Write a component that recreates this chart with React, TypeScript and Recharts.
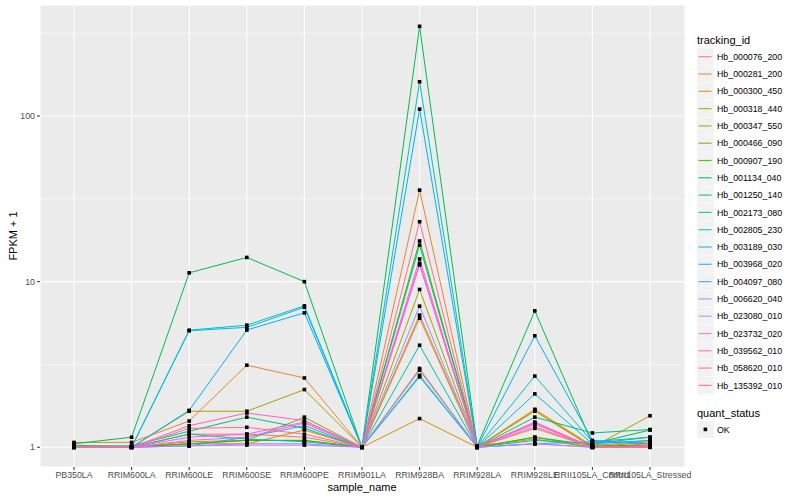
import React from 'react';
import { LineChart, Line, XAxis, YAxis, CartesianGrid, ReferenceLine } from 'recharts';

const CATEGORIES = ['PB350LA', 'RRIM600LA', 'RRIM600LE', 'RRIM600SE', 'RRIM600PE', 'RRIM901LA', 'RRIM928BA', 'RRIM928LA', 'RRIM928LE', 'RRII105LA_Control', 'RRII105LA_Stressed'];

const TRACKING_IDS = ['Hb_000076_200', 'Hb_000281_200', 'Hb_000300_450', 'Hb_000318_440', 'Hb_000347_550', 'Hb_000466_090', 'Hb_000907_190', 'Hb_001134_040', 'Hb_001250_140', 'Hb_002173_080', 'Hb_002805_230', 'Hb_003189_030', 'Hb_003968_020', 'Hb_004097_080', 'Hb_006620_040', 'Hb_023080_010', 'Hb_023732_020', 'Hb_039562_010', 'Hb_058620_010', 'Hb_135392_010'];

const COLORS = ['#F8766D', '#EA8331', '#D89000', '#C09B00', '#A3A500', '#7CAE00', '#39B600', '#00BB4E', '#00BF7D', '#00C1A3', '#00BFC4', '#00BAE0', '#00B0F6', '#35A2FF', '#9590FF', '#C77CFF', '#E76BF3', '#FA62DB', '#FF62BC', '#FF6C91'];

const hb_000076_200 = [1.0, 1.0, 1.2, 1.2, 1.15, 1.0, 6.02, 1.0, 1.3, 1.0, 1.03];
const hb_000281_200 = [1.07, 1.07, 1.44, 3.13, 2.62, 1.0, 35.7, 1.0, 1.69, 1.02, 1.1];
const hb_000300_450 = [1.03, 1.0, 1.05, 1.05, 1.27, 1.0, 1.49, 1.0, 1.69, 1.0, 1.08];
const hb_000318_440 = [1.0, 1.0, 1.08, 1.1, 1.1, 1.0, 6.28, 1.02, 1.12, 1.0, 1.05];
const hb_000347_550 = [1.0, 1.0, 1.65, 1.65, 2.23, 1.0, 8.97, 1.0, 1.65, 1.0, 1.55];
const hb_000466_090 = [1.0, 1.0, 1.05, 1.1, 1.52, 1.0, 2.92, 1.0, 1.15, 1.0, 1.02];
const hb_000907_190 = [1.0, 1.0, 1.05, 1.1, 1.1, 1.0, 17.6, 1.0, 1.15, 1.03, 1.02];
const hb_001134_040 = [1.05, 1.15, 11.3, 14.0, 10.0, 1.0, 348, 1.02, 6.66, 1.05, 1.27];
const hb_001250_140 = [1.02, 1.02, 1.25, 1.52, 1.3, 1.0, 16.6, 1.0, 1.52, 1.22, 1.28];
const hb_002173_080 = [1.0, 1.0, 1.2, 1.12, 1.08, 1.0, 4.13, 1.0, 1.1, 1.05, 1.15];
const hb_002805_230 = [1.0, 1.0, 5.09, 5.46, 7.14, 1.0, 161, 1.0, 2.69, 1.08, 1.15];
const hb_003189_030 = [1.0, 1.0, 5.05, 5.3, 7.0, 1.0, 2.66, 1.0, 2.1, 1.05, 1.1];
const hb_003968_020 = [1.0, 1.0, 1.67, 5.1, 6.48, 1.0, 110, 1.0, 4.71, 1.1, 1.05];
const hb_004097_080 = [1.0, 1.0, 1.02, 1.15, 1.35, 1.0, 2.72, 1.0, 1.05, 1.08, 1.05];
const hb_006620_040 = [1.0, 1.0, 1.02, 1.05, 1.05, 1.0, 7.11, 1.0, 1.05, 1.0, 1.02];
const hb_023080_010 = [1.0, 1.0, 1.02, 1.03, 1.03, 1.0, 2.99, 1.0, 1.05, 1.0, 1.0];
const hb_023732_020 = [1.0, 1.0, 1.1, 1.15, 1.4, 1.0, 12.6, 1.0, 1.4, 1.0, 1.0];
const hb_039562_010 = [1.0, 1.0, 1.15, 1.2, 1.42, 1.0, 12.9, 1.0, 1.38, 1.0, 1.0];
const hb_058620_010 = [1.0, 1.0, 1.35, 1.61, 1.45, 1.0, 13.7, 1.0, 1.42, 1.0, 1.02];
const hb_135392_010 = [1.0, 1.0, 1.3, 1.32, 1.2, 1.0, 23, 1.0, 1.33, 1.0, 1.0];

const SERIES_VALUES = [hb_000076_200, hb_000281_200, hb_000300_450, hb_000318_440, hb_000347_550, hb_000466_090, hb_000907_190, hb_001134_040, hb_001250_140, hb_002173_080, hb_002805_230, hb_003189_030, hb_003968_020, hb_004097_080, hb_006620_040, hb_023080_010, hb_023732_020, hb_039562_010, hb_058620_010, hb_135392_010];

const Y_TICKS = [1, 10, 100];
const Y_MINOR = [3.1623, 31.623, 316.23];

const data = CATEGORIES.map((c, i) => {
  const row: any = { sample_name: c };
  TRACKING_IDS.forEach((id, s) => {
    row[id] = SERIES_VALUES[s][i];
  });
  return row;
});

const FONT = '"Liberation Sans", Arial, Helvetica, sans-serif';

const SquareDot = (props: any) => {
  const { cx, cy, index } = props;
  if (cx == null || cy == null) return <g key={index} />;
  return <rect key={index} x={cx - 1.8} y={cy - 1.8} width={3.6} height={3.6} fill="#000" />;
};

export default function App() {
  return (
    <div style={{ position: 'absolute', left: 0, top: 0, width: 800, height: 500, background: '#fff', fontFamily: FONT }}>
      <LineChart width={800} height={500} data={data} margin={{ top: 5, right: 115, bottom: 0, left: 0 }}>
        <CartesianGrid fill="#EBEBEB" stroke="#FFFFFF" strokeWidth={1.1} />
        {Y_MINOR.map((v) => (
          <ReferenceLine key={v} y={v} stroke="#FFFFFF" strokeWidth={0.55} />
        ))}
        <XAxis
          dataKey="sample_name"
          interval={0}
          padding={{ left: 34, right: 35 }}
          height={33}
          axisLine={false}
          tickSize={3}
          tickLine={{ stroke: '#333333' }}
          tick={{ fill: '#4D4D4D', fontSize: 8.8, fontFamily: FONT }}
          tickMargin={2}
        />
        <YAxis
          scale="log"
          domain={[0.76, 468]}
          allowDataOverflow
          ticks={Y_TICKS}
          width={40}
          axisLine={false}
          tickSize={3}
          tickLine={{ stroke: '#333333' }}
          tick={{ fill: '#4D4D4D', fontSize: 8.8, fontFamily: FONT }}
          tickMargin={2}
        />
        {TRACKING_IDS.map((id, s) => (
          <Line
            key={id}
            type="linear"
            dataKey={id}
            stroke={COLORS[s]}
            strokeWidth={1}
            dot={false}
            activeDot={false}
            isAnimationActive={false}
          />
        ))}
        {TRACKING_IDS.map((id) => (
          <Line
            key={id + '_pts'}
            type="linear"
            dataKey={id}
            stroke="none"
            strokeOpacity={0}
            dot={<SquareDot />}
            activeDot={false}
            legendType="none"
            isAnimationActive={false}
          />
        ))}
      </LineChart>
      <svg width={800} height={500} style={{ position: 'absolute', left: 0, top: 0, pointerEvents: 'none' }}>
        <text x={362} y={491} textAnchor="middle" fontSize={11} fill="#000" fontFamily={FONT}>sample_name</text>
        <text x={17} y={236} textAnchor="middle" fontSize={11} fill="#000" fontFamily={FONT} transform="rotate(-90 17 236)">FPKM + 1</text>
        <text x={697} y={44} fontSize={11} fill="#000" fontFamily={FONT}>tracking_id</text>
        {TRACKING_IDS.map((id, s) => {
          const cy = 56.7 + s * 17.3;
          return (
            <g key={id}>
              <rect x={697} y={cy - 8.4} width={16.8} height={16.8} fill="#F2F2F2" />
              <line x1={698.5} x2={711.5} y1={cy} y2={cy} stroke={COLORS[s]} strokeWidth={1.2} strokeOpacity={0.85} />
              <text x={717} y={cy + 3.1} fontSize={8.8} fill="#000" fontFamily={FONT}>{id}</text>
            </g>
          );
        })}
        <text x={697} y={416.5} fontSize={11} fill="#000" fontFamily={FONT}>quant_status</text>
        <rect x={697} y={421} width={16.8} height={16.8} fill="#F2F2F2" />
        <rect x={703.6} y={427.6} width={3.6} height={3.6} fill="#000" />
        <text x={717} y={432.5} fontSize={8.8} fill="#000" fontFamily={FONT}>OK</text>
      </svg>
    </div>
  );
}
